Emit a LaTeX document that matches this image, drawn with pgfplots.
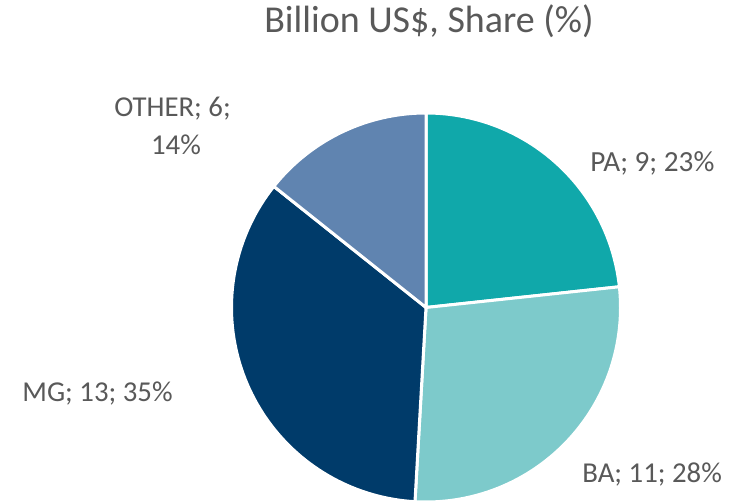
\documentclass[border=0pt]{standalone}
\usepackage{pgfplots}
\usepackage{pgfplotstable}
\usepackage{fontspec}
\setmainfont{Carlito}
\pgfplotsset{compat=1.18}
\definecolor{cPA}{RGB}{16,168,170}
\definecolor{cBA}{RGB}{125,202,203}
\definecolor{cMG}{RGB}{0,59,106}
\definecolor{cOT}{RGB}{96,132,176}
\definecolor{txt}{RGB}{89,89,89}
% share: unrounded share (%); label shows rounded values
\pgfplotstableread{
name value share
PA 9 23.3
BA 11 27.6
MG 13 34.8
OTHER 6 14.3
}\pietable
\pgfplotstablegetelem{0}{share}\of\pietable \pgfmathsetmacro\sA{\pgfplotsretval}
\pgfplotstablegetelem{1}{share}\of\pietable \pgfmathsetmacro\sB{\pgfplotsretval}
\pgfplotstablegetelem{2}{share}\of\pietable \pgfmathsetmacro\sC{\pgfplotsretval}
\pgfplotstablegetelem{3}{share}\of\pietable \pgfmathsetmacro\sD{\pgfplotsretval}
\pgfmathsetmacro\aA{90}
\pgfmathsetmacro\aB{\aA-3.6*\sA}
\pgfmathsetmacro\aC{\aB-3.6*\sB}
\pgfmathsetmacro\aD{\aC-3.6*\sC}
\pgfmathsetmacro\aE{\aD-3.6*\sD}
\def\cx{426}
\def\cy{193.5}
\def\R{194.5}
\begin{document}
\begin{tikzpicture}
\begin{axis}[
  scale only axis, width=366.5pt, height=250.5pt,
  xmin=0, xmax=733, ymin=0, ymax=501,
  hide axis, clip=false,
]
\path (rel axis cs:0,0) rectangle (rel axis cs:1,1);
\addplot[fill=cPA, draw=white, line width=1.5pt, line join=round, domain=\aB:\aA, samples=80, variable=\t]
  ({\cx+\R*cos(\t)},{\cy+\R*sin(\t)}) -- (axis cs:\cx,\cy) -- cycle;
\addplot[fill=cBA, draw=white, line width=1.5pt, line join=round, domain=\aC:\aB, samples=80, variable=\t]
  ({\cx+\R*cos(\t)},{\cy+\R*sin(\t)}) -- (axis cs:\cx,\cy) -- cycle;
\addplot[fill=cMG, draw=white, line width=1.5pt, line join=round, domain=\aD:\aC, samples=80, variable=\t]
  ({\cx+\R*cos(\t)},{\cy+\R*sin(\t)}) -- (axis cs:\cx,\cy) -- cycle;
\addplot[fill=cOT, draw=white, line width=1.5pt, line join=round, domain=\aE:\aD, samples=80, variable=\t]
  ({\cx+\R*cos(\t)},{\cy+\R*sin(\t)}) -- (axis cs:\cx,\cy) -- cycle;
\node[anchor=base, text=txt, font=\fontsize{19}{22}\selectfont, inner sep=0pt] at (axis cs:429,468) {Billion US\$, Share (\%)};
\node[anchor=base west, text=txt, font=\fontsize{14.6}{18}\selectfont, inner sep=0pt] at (axis cs:590,329) {PA; 9; 23\%};
\node[anchor=base west, text=txt, font=\fontsize{14.4}{18}\selectfont, inner sep=0pt] at (axis cs:582,18) {BA; 11; 28\%};
\node[anchor=base west, text=txt, font=\fontsize{14.4}{18}\selectfont, inner sep=0pt] at (axis cs:22,99) {MG; 13; 35\%};
\node[anchor=base, text=txt, font=\fontsize{14.4}{18}\selectfont, inner sep=0pt] at (axis cs:172.5,384) {OTHER; 6;};
\node[anchor=base, text=txt, font=\fontsize{14.4}{18}\selectfont, inner sep=0pt] at (axis cs:176,346) {14\%};
\end{axis}
\end{tikzpicture}
\end{document}
